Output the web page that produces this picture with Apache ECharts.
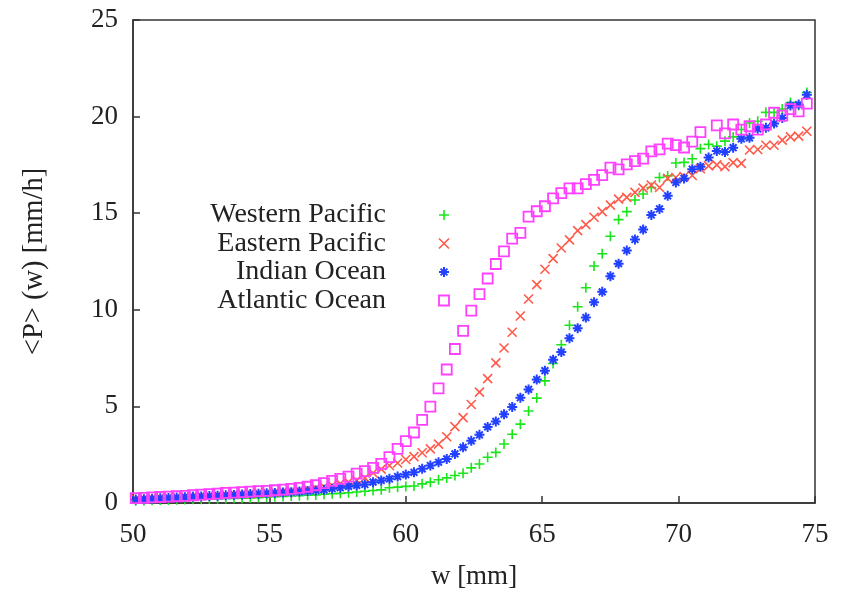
<!DOCTYPE html>
<html>
<head>
<meta charset="utf-8">
<title>Mean precipitation vs. water vapour</title>
<script src="https://cdn.jsdelivr.net/npm/echarts@6/dist/echarts.min.js"></script>
<style>
  html, body { margin: 0; padding: 0; background: #ffffff; }
  #chart { width: 848px; height: 595px; }
</style>
</head>
<body>
<div id="chart"></div>
<script>
// Column water vapour bins w [mm]
const wBins = [
  50.1, 50.4, 50.7, 51.0, 51.3, 51.6, 51.9, 52.2, 52.5, 52.8,
  53.1, 53.4, 53.7, 54.0, 54.3, 54.6, 54.9, 55.2, 55.5, 55.8,
  56.1, 56.4, 56.7, 57.0, 57.3, 57.6, 57.9, 58.2, 58.5, 58.8,
  59.1, 59.4, 59.7, 60.0, 60.3, 60.6, 60.9, 61.2, 61.5, 61.8,
  62.1, 62.4, 62.7, 63.0, 63.3, 63.6, 63.9, 64.2, 64.5, 64.8,
  65.1, 65.4, 65.7, 66.0, 66.3, 66.6, 66.9, 67.2, 67.5, 67.8,
  68.1, 68.4, 68.7, 69.0, 69.3, 69.6, 69.9, 70.2, 70.5, 70.8,
  71.1, 71.4, 71.7, 72.0, 72.3, 72.6, 72.9, 73.2, 73.5, 73.8,
  74.1, 74.4, 74.7
];

// Mean precipitation <P>(w) [mm/h] per basin
const westernPacific = [
  0.12, 0.13, 0.14, 0.15, 0.16, 0.17, 0.18, 0.19, 0.20, 0.21,
  0.22, 0.23, 0.24, 0.25, 0.26, 0.28, 0.30, 0.32, 0.34, 0.36,
  0.38, 0.40, 0.42, 0.45, 0.48, 0.50, 0.53, 0.57, 0.61, 0.65,
  0.68, 0.79, 0.82, 0.86, 0.88, 0.99, 1.08, 1.20, 1.30, 1.42,
  1.54, 1.82, 2.02, 2.37, 2.62, 3.05, 3.56, 4.08, 4.76, 5.43,
  6.32, 7.22, 8.19, 9.20, 10.16, 11.14, 12.27, 12.90, 13.81, 14.67,
  15.08, 15.68, 15.99, 16.33, 16.85, 16.93, 17.60, 17.63, 17.82, 18.34,
  18.56, 18.47, 18.73, 18.95, 19.33, 19.67, 19.76, 20.22, 20.22, 20.39,
  20.73, 20.57, 21.25
];
const easternPacific = [
  0.22, 0.24, 0.26, 0.28, 0.30, 0.32, 0.34, 0.36, 0.38, 0.40,
  0.42, 0.44, 0.46, 0.48, 0.50, 0.52, 0.54, 0.57, 0.60, 0.63,
  0.67, 0.72, 0.78, 0.85, 0.92, 1.00, 1.08, 1.17, 1.30, 1.55,
  1.75, 1.94, 2.07, 2.25, 2.40, 2.60, 2.80, 3.05, 3.43, 3.95,
  4.42, 5.10, 5.74, 6.44, 7.25, 8.02, 8.84, 9.68, 10.56, 11.30,
  12.10, 12.65, 13.20, 13.62, 14.10, 14.41, 14.79, 15.08, 15.42, 15.73,
  15.82, 16.08, 16.30, 16.45, 16.33, 16.80, 16.85, 16.90, 16.95, 17.30,
  17.45, 17.50, 17.41, 17.62, 17.58, 18.27, 18.30, 18.52, 18.52, 18.78,
  18.95, 18.99, 19.24
];
const indianOcean = [
  0.18, 0.20, 0.22, 0.24, 0.26, 0.28, 0.30, 0.32, 0.34, 0.36,
  0.38, 0.40, 0.42, 0.44, 0.46, 0.48, 0.50, 0.52, 0.54, 0.56,
  0.59, 0.62, 0.65, 0.68, 0.74, 0.79, 0.86, 0.91, 0.96, 1.08,
  1.17, 1.25, 1.37, 1.47, 1.59, 1.77, 1.94, 2.11, 2.28, 2.54,
  2.88, 3.22, 3.53, 3.94, 4.22, 4.59, 4.97, 5.45, 5.88, 6.39,
  6.85, 7.42, 7.81, 8.53, 9.05, 9.60, 10.39, 10.93, 11.74, 12.39,
  13.07, 13.64, 14.15, 14.91, 15.22, 15.90, 16.59, 16.80, 17.28, 17.41,
  17.88, 18.22, 18.17, 18.39, 18.85, 18.90, 19.37, 19.42, 19.64, 19.93,
  20.57, 20.62, 21.13
];
const atlanticOcean = [
  0.25, 0.27, 0.29, 0.31, 0.33, 0.35, 0.37, 0.40, 0.43, 0.46,
  0.49, 0.52, 0.54, 0.56, 0.59, 0.61, 0.63, 0.66, 0.69, 0.73,
  0.78, 0.84, 0.92, 1.03, 1.15, 1.25, 1.37, 1.52, 1.65, 1.82,
  2.02, 2.37, 2.80, 3.20, 3.65, 4.30, 4.99, 5.93, 6.91, 7.97,
  8.91, 9.96, 10.81, 11.62, 12.37, 13.02, 13.68, 13.98, 14.82, 15.10,
  15.36, 15.77, 16.04, 16.28, 16.28, 16.50, 16.73, 16.97, 17.36, 17.27,
  17.53, 17.70, 17.82, 18.20, 18.30, 18.60, 18.52, 18.40, 18.70, 19.20,
  null, 19.55, 19.13, 19.59, 19.33, 19.50, 19.33, 19.59, 20.20, 20.05,
  20.39, 20.27, 20.67
];

const seriesNames = ['Western Pacific', 'Eastern Pacific', 'Indian Ocean', 'Atlantic Ocean'];
const xTicks = { min: 50, max: 75, step: 5 };
const yTicks = { min: 0, max: 25, step: 5 };

const SERIF = "'Liberation Serif', 'Times New Roman', 'DejaVu Serif', serif";
const INK = '#222222';

// marker glyphs (stroked paths)
const PLUS = 'path://M5,0L5,10M0,5L10,5';
const CROSS = 'path://M0,0L10,10M0,10L10,0';
const STAR = 'path://M5,0L5,10M0,5L10,5M1.6,1.6L8.4,8.4M1.6,8.4L8.4,1.6';
const SQUARE = 'path://M0,0L10,0L10,10L0,10Z';

const styles = [
  { symbol: PLUS,   size: 10, color: '#19e619', width: 1.6 },
  { symbol: CROSS,  size: 9,  color: '#ff5a4a', width: 1.6 },
  { symbol: STAR,   size: 10, color: '#2140ff', width: 2.0 },
  { symbol: SQUARE, size: 10, color: '#ff40ff', width: 1.8 }
];
const values = [westernPacific, easternPacific, indianOcean, atlanticOcean];

function pairs(ys) {
  return wBins.map((w, i) => [w, ys[i]]).filter(p => p[1] !== null);
}

const chart = echarts.init(document.getElementById('chart'), null, { renderer: 'canvas' });

chart.setOption({
  animation: false,
  backgroundColor: '#ffffff',
  grid: {
    left: 133, right: 33, top: 20, bottom: 88,
    show: true, borderColor: '#333333', borderWidth: 1.5, backgroundColor: 'transparent'
  },
  legend: {
    orient: 'vertical',
    align: 'right',
    right: 398,
    top: 201,
    padding: 0,
    itemWidth: 10,
    itemHeight: 10,
    itemGap: 0.5,
    selectedMode: false,
    textStyle: {
      fontFamily: SERIF, fontSize: 28, color: INK, lineHeight: 28,
      padding: [0, 48, 0, 0]
    },
    data: seriesNames.map((name, i) => ({
      name,
      icon: styles[i].symbol,
      itemStyle: { color: 'transparent', borderColor: styles[i].color, borderWidth: styles[i].width }
    }))
  },
  xAxis: {
    type: 'value',
    min: xTicks.min, max: xTicks.max, interval: xTicks.step,
    name: 'w [mm]',
    nameLocation: 'middle',
    nameGap: 60,
    nameTextStyle: { fontFamily: SERIF, fontSize: 27, color: INK },
    axisLine: { lineStyle: { color: '#333333', width: 1.5 } },
    axisTick: { inside: true, length: 7, lineStyle: { color: '#333333', width: 1.5 } },
    axisLabel: { fontFamily: SERIF, fontSize: 27, color: INK, margin: 18 },
    splitLine: { show: false }
  },
  yAxis: {
    type: 'value',
    min: yTicks.min, max: yTicks.max, interval: yTicks.step,
    name: '<P> (w) [mm/h]',
    nameLocation: 'middle',
    nameGap: 84,
    nameRotate: 90,
    nameTextStyle: { fontFamily: SERIF, fontSize: 28.5, color: INK },
    axisLine: { lineStyle: { color: '#333333', width: 1.5 } },
    axisTick: { inside: true, length: 7, lineStyle: { color: '#333333', width: 1.5 } },
    axisLabel: { fontFamily: SERIF, fontSize: 27, color: INK, margin: 15 },
    splitLine: { show: false }
  },
  series: seriesNames.map((name, i) => ({
    name,
    type: 'scatter',
    symbol: styles[i].symbol,
    symbolSize: styles[i].size,
    symbolKeepAspect: true,
    itemStyle: { color: 'transparent', borderColor: styles[i].color, borderWidth: styles[i].width, opacity: 1 },
    emphasis: { disabled: true },
    data: pairs(values[i])
  }))
});
</script>
</body>
</html>
